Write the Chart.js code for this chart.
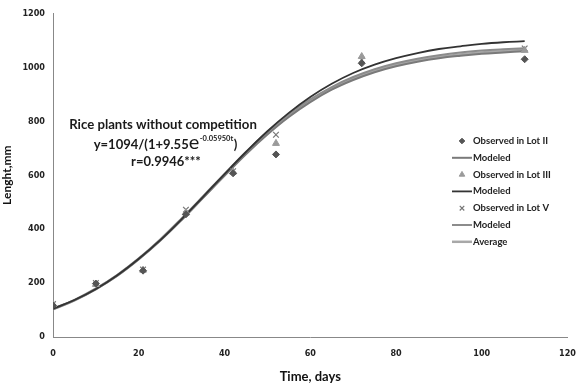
<!DOCTYPE html>
<html><head><meta charset="utf-8">
<script src="https://cdn.jsdelivr.net/npm/chart.js@4"></script>
<style>html,body{margin:0;padding:0;background:#fff}#wrap{width:587px;height:385px}</style>
</head><body><div id="wrap"><canvas id="c" width="587" height="385"></canvas></div>
<script>
// ---- data ----
const times  = [0, 10, 21, 31, 42, 52, 72, 110];
const lotII  = [117, 198, 246, 455, 607, 677, 1015, 1030];
const lotIII = [120, 195, 248, 460, 612, 718, 1040, 1063];
const lotV   = [122, 200, 250, 472, 615, 750, 1028, 1070];

const modelT      = [0,5,10,15,20,25,30,35,40,45,50,55,60,65,70,75,80,85,90,95,100,105,110];
const modelII     = [103,136,177,227,288,357,434,516,598,678,751,816,871,917,953,982,1004,1021,1034,1043,1050,1055,1060];
const modelIII    = [105,137,178,229,290,359,437,520,604,686,763,831,890,939,979,1010,1034,1053,1068,1078,1087,1093,1097];
const modelV      = [105,138,180,231,292,362,440,522,605,686,760,826,881,927,964,993,1015,1032,1045,1055,1062,1067,1071];
const modelAvg    = [103,136,178,228,289,359,436,518,602,682,755,820,876,921,958,986,1009,1025,1038,1048,1055,1060,1065];

const seriesLabels = ['Observed in Lot II','Modeled','Observed in Lot III','Modeled','Observed in Lot V','Modeled','Average'];
const xTicks = [0,20,40,60,80,100,120];
const yTicks = [0,200,400,600,800,1000,1200];
const xTitle = 'Time, days';
const yTitle = 'Lenght,mm';
const noteTitle = 'Rice plants without competition';
const noteEqA = 'y=1094/(1+9.55';
const noteEqE = 'e';
const noteEqExp = '-0.05950t';
const noteEqB = ')';
const noteR = 'r=0.9946***';

const pts = (xs, ys) => xs.map((x, i) => ({x, y: ys[i]}));

const datasets = [
  {label: seriesLabels[0], data: pts(times, lotII), showLine: false, pointStyle: 'rectRot', pointRadius: 3.5, backgroundColor: '#555', borderColor: '#555', order: 1},
  {label: seriesLabels[1], data: pts(modelT, modelII), showLine: true, pointRadius: 0, borderColor: '#7a7a7a', borderWidth: 2, tension: 0.4, order: 5},
  {label: seriesLabels[2], data: pts(times, lotIII), showLine: false, pointStyle: 'triangle', pointRadius: 4, backgroundColor: '#9a9a9a', borderColor: '#9a9a9a', order: 2},
  {label: seriesLabels[3], data: pts(modelT, modelIII), showLine: true, pointRadius: 0, borderColor: '#333', borderWidth: 1.8, tension: 0.4, order: 4},
  {label: seriesLabels[4], data: pts(times, lotV), showLine: false, pointStyle: 'crossRot', pointRadius: 4, borderWidth: 1.2, backgroundColor: '#777', borderColor: '#777', order: 3},
  {label: seriesLabels[5], data: pts(modelT, modelV), showLine: true, pointRadius: 0, borderColor: '#8c8c8c', borderWidth: 2, tension: 0.4, order: 6},
  {label: seriesLabels[6], data: pts(modelT, modelAvg), showLine: true, pointRadius: 0, borderColor: '#a8a8a8', borderWidth: 2.5, tension: 0.4, order: 7}
];

const FONT = 'Lato, "Open Sans", "Liberation Sans", sans-serif';
const TICKFONT = '"Liberation Sans Narrow", "DejaVu Sans Condensed", "Liberation Sans", sans-serif';

const overlay = {
  id: 'overlay',
  afterDraw(chart) {
    const ctx = chart.ctx;
    ctx.save();
    // legend
    const lx = 462, ly0 = 141, step = 16.8;
    ctx.textBaseline = 'middle';
    ctx.textAlign = 'left';
    chart.data.datasets.forEach((ds, i) => {
      const y = ly0 + i * step;
      if (ds.showLine) {
        ctx.strokeStyle = ds.borderColor;
        ctx.lineWidth = ds.borderWidth;
        ctx.beginPath(); ctx.moveTo(452, y); ctx.lineTo(472, y); ctx.stroke();
      } else {
        ctx.fillStyle = ds.backgroundColor; ctx.strokeStyle = ds.borderColor;
        ctx.lineWidth = ds.borderWidth || 1;
        Chart.helpers.drawPoint(ctx, {pointStyle: ds.pointStyle, radius: ds.pointRadius * 0.8, borderWidth: ds.borderWidth || 1}, lx, y);
      }
      ctx.font = 'bold 9.5px ' + FONT;
      ctx.fillStyle = '#222';
      ctx.fillText(ds.label, ds.showLine ? 473 : 473, y);
    });
    // annotation
    ctx.fillStyle = '#1a1a1a';
    ctx.textAlign = 'center';
    ctx.font = 'bold 13.2px ' + FONT;
    ctx.fillText(noteTitle, 163, 125);
    // equation
    const fA = 'bold 13px ' + FONT, fE = '20px ' + FONT, fX = 'bold 7.5px ' + FONT;
    ctx.font = fA; const wA = ctx.measureText(noteEqA).width, wB = ctx.measureText(noteEqB).width;
    ctx.font = fE; const wE = ctx.measureText(noteEqE).width;
    ctx.font = fX; const wX = ctx.measureText(noteEqExp).width;
    let x = 165 - (wA + wE + wX + wB) / 2;
    ctx.textAlign = 'left';
    ctx.font = fA; ctx.fillText(noteEqA, x, 145); x += wA;
    ctx.font = fE; ctx.fillText(noteEqE, x, 143); x += wE + 0.5;
    ctx.font = fX; ctx.fillText(noteEqExp, x, 139); x += wX + 0.5;
    ctx.font = fA; ctx.fillText(noteEqB, x, 145);
    ctx.textAlign = 'center';
    ctx.fillText(noteR, 166, 162);
    ctx.restore();
  }
};

new Chart(document.getElementById('c'), {
  type: 'scatter',
  data: {datasets},
  options: {
    responsive: false,
    animation: false,
    layout: {padding: {top: 11, right: 11, left: 0, bottom: 0}},
    plugins: {legend: {display: false}, tooltip: {enabled: false}},
    scales: {
      x: {
        type: 'linear', min: 0, max: 120,
        afterBuildTicks: s => { s.ticks = xTicks.map(v => ({value: v})); },
        afterFit: s => { s.height = 48; },
        grid: {display: false, drawTicks: false},
        border: {display: true, color: '#888', width: 1, dash: [1, 1]},
        ticks: {padding: 11, color: '#222', callback: v => String(v), font: {family: TICKFONT, size: 9, weight: 'bold'}},
        title: {display: true, text: xTitle, color: '#111', font: {family: FONT, size: 13, weight: 'bold'}, padding: {top: 8, bottom: 0}}
      },
      y: {
        type: 'linear', min: 0, max: 1200,
        afterBuildTicks: s => { s.ticks = yTicks.map(v => ({value: v})); },
        afterFit: s => { s.width = 53; },
        grid: {display: false, drawTicks: false},
        border: {display: true, color: '#888', width: 1, dash: [1, 1]},
        ticks: {padding: 8, color: '#222', callback: v => String(v), font: {family: TICKFONT, size: 9, weight: 'bold'}},
        title: {display: true, text: yTitle, color: '#111', font: {family: FONT, size: 12, weight: 'bold'}, padding: {top: 0, bottom: 0}}
      }
    }
  },
  plugins: [overlay]
});
</script>
</body></html>
